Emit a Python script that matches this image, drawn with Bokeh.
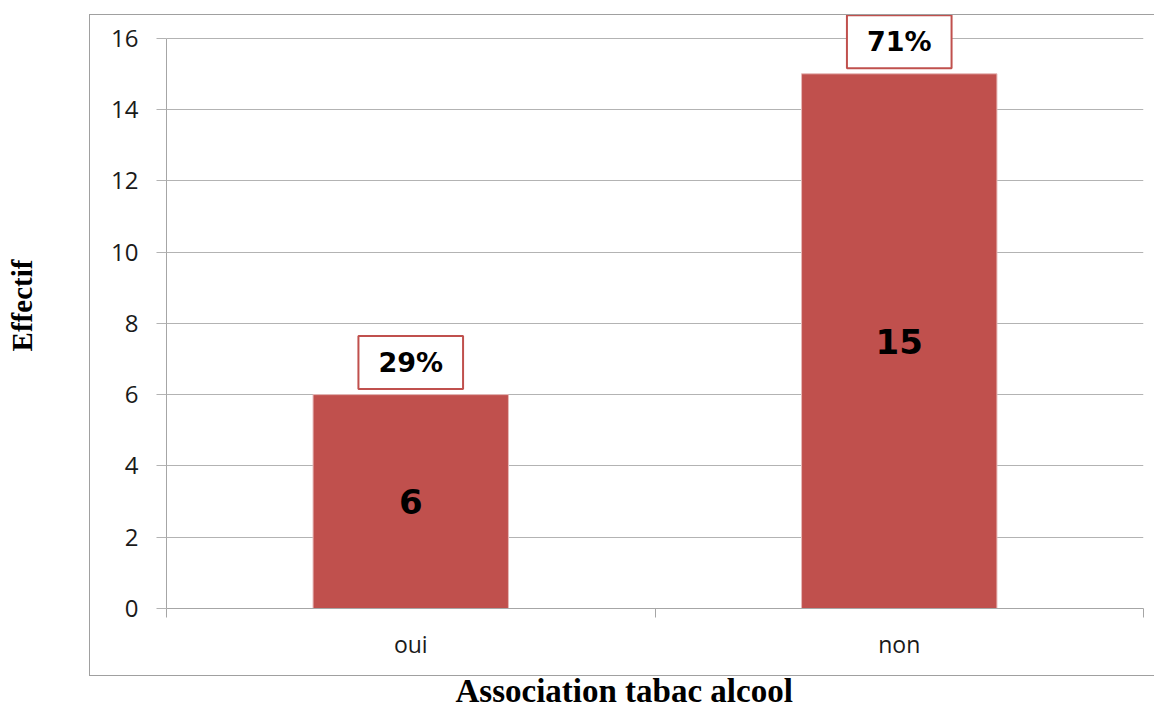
from bokeh.plotting import figure
from bokeh.models import Range1d, FixedTicker, ColumnDataSource, Title, InlineStyleSheet
from bokeh.core.properties import value
from bokeh.embed import file_html
from bokeh.resources import INLINE

# Data
categories = ["oui", "non"]
counts = [6, 15]
percents = ["29%", "71%"]
y_ticks = [0, 2, 4, 6, 8, 10, 12, 14, 16]

BAR_COLOR = "#C0504D"
GRID_COLOR = "#b3b3b3"
AXIS_COLOR = "#a6a6a6"

positions = [i + 0.5 for i in range(len(categories))]
boundaries = list(range(len(categories) + 1))

source = ColumnDataSource(dict(
    x=positions,
    count=counts,
    half=[c / 2 for c in counts],
    count_text=[str(c) for c in counts],
    pct=percents,
))

# A little headroom above the last tick so the boxed label on the tallest bar fits
p = figure(
    width=1154, height=720, title=None,
    output_backend="svg", toolbar_location=None,
    x_range=Range1d(0, len(categories)), y_range=Range1d(0, 17),
    min_border_left=166, min_border_right=11,
    min_border_top=2, min_border_bottom=109,
    background_fill_color="white", border_fill_color="white",
)
p.outline_line_color = None

# Outer chart border
p.stylesheets = [InlineStyleSheet(css="""
:host { position: relative; }
:host::after {
  content: '';
  position: absolute;
  left: 89px; top: 14px;
  width: 1065px; height: 662px;
  box-sizing: border-box;
  border: 1.5px solid #a0a0a0;
  border-right: none;
  pointer-events: none;
}
""")]

# Bars
p.vbar(x="x", top="count", bottom=0, width=0.4, source=source,
       fill_color=BAR_COLOR, line_color="#e6b9b8", line_width=1)

# Counts inside bars
p.text(x="x", y="half", text="count_text", source=source,
       text_align="center", text_baseline="middle",
       text_font=value("DejaVu Sans"), text_font_style="bold",
       text_font_size="34px", text_color="black")

# Percentages in boxed labels above bars
p.text(x="x", y="count", text="pct", source=source,
       y_offset=-32, text_align="center", text_baseline="middle",
       text_font=value("DejaVu Sans"), text_font_style="bold",
       text_font_size="27px", text_color="black",
       background_fill_color="white",
       border_line_color=BAR_COLOR, border_line_width=2,
       padding=(20, 11))

# Grid
p.xgrid.visible = False
p.ygrid.ticker = FixedTicker(ticks=y_ticks)
p.ygrid.grid_line_color = GRID_COLOR
p.ygrid.grid_line_width = 1

# Y axis
p.yaxis.ticker = FixedTicker(ticks=y_ticks)
p.yaxis.bounds = (0, 16)
p.yaxis.axis_line_color = AXIS_COLOR
p.yaxis.major_tick_line_color = GRID_COLOR
p.yaxis.major_tick_out = 10
p.yaxis.major_tick_in = 0
p.yaxis.minor_tick_line_color = None
p.yaxis.major_label_standoff = 18
p.yaxis.major_label_text_font = "Open Sans"
p.yaxis.major_label_text_font_size = "24px"
p.yaxis.major_label_text_color = "#1a1a1a"
p.yaxis.axis_label = "Effectif"
p.yaxis.axis_label_text_font = "Liberation Serif"
p.yaxis.axis_label_text_font_style = "bold"
p.yaxis.axis_label_text_font_size = "29px"
p.yaxis.axis_label_text_color = "black"
p.yaxis.axis_label_standoff = 70

# X axis: labels at category centres, tick marks at category boundaries
p.xaxis.ticker = FixedTicker(ticks=positions, minor_ticks=boundaries)
p.xaxis.major_label_overrides = {pos: cat for pos, cat in zip(positions, categories)}
p.xaxis.axis_line_color = AXIS_COLOR
p.xaxis.major_tick_line_color = None
p.xaxis.major_tick_out = 9
p.xaxis.major_tick_in = 0
p.xaxis.minor_tick_line_color = AXIS_COLOR
p.xaxis.minor_tick_out = 9
p.xaxis.minor_tick_in = 0
p.xaxis.major_label_standoff = 10
p.xaxis.major_label_text_font = "Open Sans"
p.xaxis.major_label_text_font_size = "23px"
p.xaxis.major_label_text_color = "#1a1a1a"

# X title, placed under the middle of the whole chart box
x_title = Title(text="Association tabac alcool", align="left", offset=289,
                standoff=20, vertical_align="top",
                text_font="Liberation Serif", text_font_style="bold",
                text_font_size="33px", text_color="black")
p.add_layout(x_title, "below")

open("out.html", "w").write(file_html(p, INLINE))
